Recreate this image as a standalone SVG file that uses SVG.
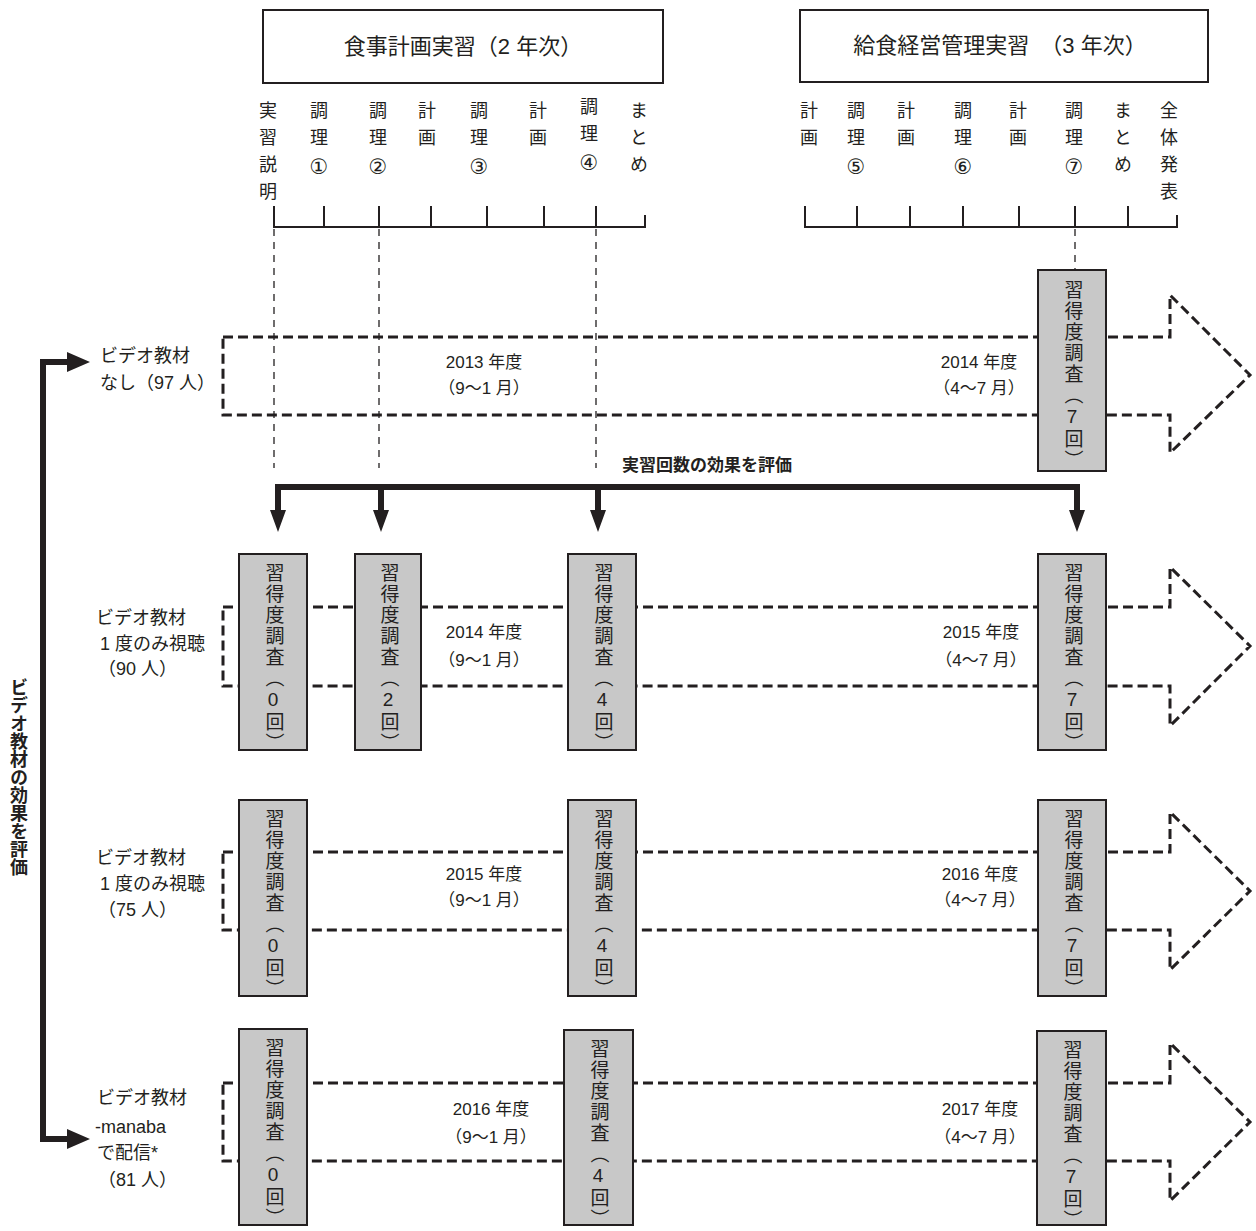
<svg xmlns="http://www.w3.org/2000/svg" width="1256" height="1231" viewBox="0 0 1256 1231">
<style>
.t{font-family:"Liberation Sans","Noto Sans CJK JP",sans-serif;fill:#231f20;}
.hd{font-size:22px;}
.lbl{font-size:18px;}
.yr{font-size:17px;text-anchor:middle;}
.col{font-family:"Noto Sans CJK JP",sans-serif;font-size:18px;writing-mode:vertical-rl;text-orientation:upright;letter-spacing:9px;}
.cn{font-family:"DejaVu Sans","Noto Sans CJK JP",sans-serif;font-size:21px;}
.bx{font-size:19px;writing-mode:vertical-rl;text-orientation:upright;letter-spacing:2px;}
.bold{font-weight:bold;}
.box{fill:#c8c8c8;stroke:#231f20;stroke-width:2;}
.frame{fill:#fff;stroke:#231f20;stroke-width:2;}
.dash{fill:none;stroke:#231f20;stroke-width:3;stroke-dasharray:10 5;}
.thin{fill:none;stroke:#231f20;stroke-width:1.3;stroke-dasharray:7 6;}
.tl{fill:none;stroke:#231f20;stroke-width:2;}
.thick{fill:none;stroke:#231f20;stroke-width:6;}
.ah{fill:#231f20;}
</style>

<!-- header boxes -->
<g id="hdr1">
<rect class="frame" x="263" y="10" width="400" height="73"/>
<text class="t hd" x="463" y="54" text-anchor="middle">食事計画実習（2 年次）</text>
</g>
<g id="hdr2">
<rect class="frame" x="800" y="10" width="408" height="72"/>
<text class="t hd" x="1000" y="53" text-anchor="middle">給食経営管理実習　（3 年次）</text>
</g>

<!-- timeline 1 -->
<g id="timeline1">
<path class="tl" d="M274,206 V227 H645 V215 M324,206 V227 M379,206 V227 M431,206 V227 M487,206 V227 M544,206 V227 M596,206 V227"/>
<text class="t col" x="268" y="101">実習説明</text>
<text class="t col" x="319" y="101">調理<tspan class="cn">①</tspan></text>
<text class="t col" x="378" y="101">調理<tspan class="cn">②</tspan></text>
<text class="t col" x="427" y="101">計画</text>
<text class="t col" x="479" y="101">調理<tspan class="cn">③</tspan></text>
<text class="t col" x="538" y="101">計画</text>
<text class="t col" x="589" y="97">調理<tspan class="cn">④</tspan></text>
<text class="t col" x="639" y="101">まとめ</text>
</g>

<!-- timeline 2 -->
<g id="timeline2">
<path class="tl" d="M805,206 V227 H1177 V215 M857,206 V227 M910,206 V227 M963,206 V227 M1019,206 V227 M1075,206 V227 M1128,206 V227"/>
<text class="t col" x="809" y="101">計画</text>
<text class="t col" x="856" y="101">調理<tspan class="cn">⑤</tspan></text>
<text class="t col" x="906" y="101">計画</text>
<text class="t col" x="963" y="101">調理<tspan class="cn">⑥</tspan></text>
<text class="t col" x="1018" y="101">計画</text>
<text class="t col" x="1074" y="101">調理<tspan class="cn">⑦</tspan></text>
<text class="t col" x="1123" y="101">まとめ</text>
<text class="t col" x="1169" y="101">全体発表</text>
</g>

<!-- connectors -->
<g id="connectors">
<path class="thin" d="M274,229 V468 M379,229 V468 M596,229 V468 M1075,229 V270"/>
<path class="dash" d="M223,337 H1170 V295 L1250,375 L1170,453 V415 H223 Z"/>
<path class="dash" d="M223,607 H1170 V567 L1250,646 L1170,726 V686 H223 Z"/>
<path class="dash" d="M223,852 H1170 V812 L1250,891 L1170,970 V930 H223 Z"/>
<path class="dash" d="M223,1083 H1170 V1043 L1250,1122 L1170,1201 V1161 H223 Z"/>
<path class="thick" d="M278,512 V487 H1077 V512 M381,487 V512 M598,487 V512"/>
<path class="ah" d="M270,510 H286 L278,532 Z M373,510 H389 L381,532 Z M590,510 H606 L598,532 Z M1069,510 H1085 L1077,532 Z"/>
<path class="thick" d="M70,362 H43 V1139 H70"/>
<path class="ah" d="M67,352 L90,362 L67,372 Z M67,1129 L90,1139 L67,1149 Z"/>
</g>

<text class="t bold" x="622" y="471" font-size="17">実習回数の効果を評価</text>
<text class="t bold" x="17" y="678" font-size="18" style="writing-mode:vertical-rl;text-orientation:upright;">ビデオ教材の効果を評価</text>

<!-- row labels -->
<g id="row1-label">
<text class="t lbl" x="100" y="362">ビデオ教材</text>
<text class="t lbl" x="100" y="389">なし（97 人）</text>
</g>
<g id="row2-label">
<text class="t lbl" x="96" y="624">ビデオ教材</text>
<text class="t lbl" x="100" y="650">1 度のみ視聴</text>
<text class="t lbl" x="98" y="675">（90 人）</text>
</g>
<g id="row3-label">
<text class="t lbl" x="96" y="864">ビデオ教材</text>
<text class="t lbl" x="100" y="890">1 度のみ視聴</text>
<text class="t lbl" x="98" y="916">（75 人）</text>
</g>
<g id="row4-label">
<text class="t lbl" x="97" y="1104">ビデオ教材</text>
<text class="t lbl" x="95" y="1133">-manaba</text>
<text class="t lbl" x="97" y="1159">で配信*</text>
<text class="t lbl" x="98" y="1186">（81 人）</text>
</g>

<!-- year labels -->
<g id="years">
<text class="t yr" x="484" y="368">2013 年度</text>
<text class="t yr" x="484" y="394">（9～1 月）</text>
<text class="t yr" x="979" y="368">2014 年度</text>
<text class="t yr" x="979" y="394">（4～7 月）</text>
<text class="t yr" x="484" y="638">2014 年度</text>
<text class="t yr" x="484" y="666">（9～1 月）</text>
<text class="t yr" x="981" y="638">2015 年度</text>
<text class="t yr" x="981" y="666">（4～7 月）</text>
<text class="t yr" x="484" y="880">2015 年度</text>
<text class="t yr" x="484" y="906">（9～1 月）</text>
<text class="t yr" x="980" y="880">2016 年度</text>
<text class="t yr" x="980" y="906">（4～7 月）</text>
<text class="t yr" x="491" y="1115">2016 年度</text>
<text class="t yr" x="491" y="1143">（9～1 月）</text>
<text class="t yr" x="980" y="1115">2017 年度</text>
<text class="t yr" x="980" y="1143">（4～7 月）</text>
</g>

<!-- survey boxes -->
<g id="r1-s7"><rect class="box" x="1038" y="270" width="68" height="201"/><text class="t bx" x="1072" y="280">習得度調査（7回）</text></g>
<g id="r2-s0"><rect class="box" x="239" y="554" width="68" height="196"/><text class="t bx" x="273" y="563">習得度調査（0回）</text></g>
<g id="r2-s2"><rect class="box" x="355" y="554" width="66" height="196"/><text class="t bx" x="388" y="563">習得度調査（2回）</text></g>
<g id="r2-s4"><rect class="box" x="568" y="554" width="68" height="196"/><text class="t bx" x="602" y="563">習得度調査（4回）</text></g>
<g id="r2-s7"><rect class="box" x="1038" y="554" width="68" height="196"/><text class="t bx" x="1072" y="563">習得度調査（7回）</text></g>
<g id="r3-s0"><rect class="box" x="239" y="800" width="68" height="196"/><text class="t bx" x="273" y="809">習得度調査（0回）</text></g>
<g id="r3-s4"><rect class="box" x="568" y="800" width="68" height="196"/><text class="t bx" x="602" y="809">習得度調査（4回）</text></g>
<g id="r3-s7"><rect class="box" x="1038" y="800" width="68" height="196"/><text class="t bx" x="1072" y="809">習得度調査（7回）</text></g>
<g id="r4-s0"><rect class="box" x="239" y="1029" width="68" height="196"/><text class="t bx" x="273" y="1038">習得度調査（0回）</text></g>
<g id="r4-s4"><rect class="box" x="564" y="1030" width="69" height="195"/><text class="t bx" x="598" y="1039">習得度調査（4回）</text></g>
<g id="r4-s7"><rect class="box" x="1037" y="1031" width="69" height="194"/><text class="t bx" x="1071" y="1040">習得度調査（7回）</text></g>
</svg>
